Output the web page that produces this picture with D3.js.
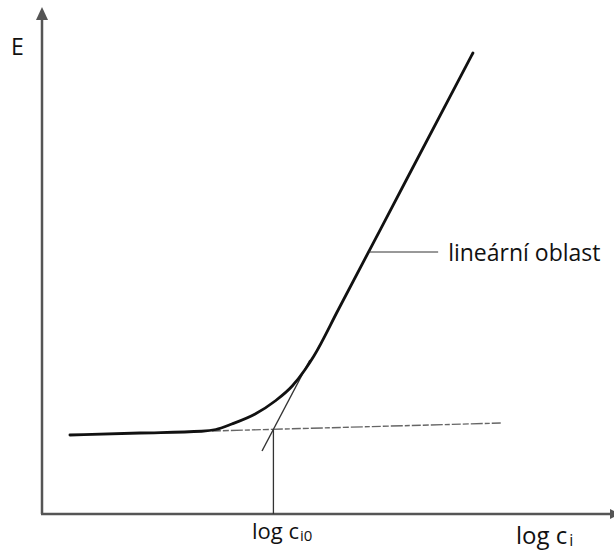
<!DOCTYPE html>
<html>
<head>
<meta charset="utf-8">
<script src="https://cdn.jsdelivr.net/npm/d3@7"></script>
<style>
  html, body { margin: 0; padding: 0; background: #fff; }
  svg { display: block; }
  text { font-family: "Open Sans", Lato, sans-serif; fill: #111; }
</style>
</head>
<body>
<script>
// Electrode response E vs log c_i (arbitrary units)
const curveX = [0.49, 1.72, 2.80, 3.05, 3.33, 3.74, 4.09, 4.39, 4.61, 4.77, 5.20, 6.40, 7.56];
const curveY = [1.58, 1.62, 1.655, 1.69, 1.80, 2.00, 2.26, 2.56, 2.88, 3.16, 4.09, 6.70, 9.22];

// extrapolation of the linear region
const tangentX = [3.86, 4.70];
const tangentY = [1.26, 3.08];

// extrapolated baseline (dashed)
const baseX = [2.98, 8.07];
const baseY = [1.66, 1.82];

// detection limit and label anchor
const logCi0 = 4.06;
const leaderX = [5.73, 6.95];
const leaderY = 5.24;

const labels = {
  yAxis: "E",
  xAxis: "log c",
  xSub: "i",
  limit: "log c",
  limitSub: "i0",
  region: "lineární oblast"
};

const W = 614, H = 552;
const x = d3.scaleLinear().domain([0, 10]).range([42, 612]);
const y = d3.scaleLinear().domain([0, 10]).range([514, 14]);

const svg = d3.select("body").append("svg").attr("width", W).attr("height", H);

const axisColor = "#555";

// axes with arrowheads
svg.append("line")
  .attr("x1", x(0)).attr("y1", y(0)).attr("x2", x(0)).attr("y2", 14)
  .attr("stroke", axisColor).attr("stroke-width", 2.5);
svg.append("path")
  .attr("d", `M${x(0)},7 L${x(0) - 6},20 L${x(0) + 6},20 Z`)
  .attr("fill", axisColor);
svg.append("line")
  .attr("x1", x(0) - 1).attr("y1", y(0)).attr("x2", W).attr("y2", y(0))
  .attr("stroke", axisColor).attr("stroke-width", 2.5);
svg.append("path")
  .attr("d", `M${W + 6},${y(0)} L${W - 4},${y(0) - 5} L${W - 4},${y(0) + 5} Z`)
  .attr("fill", axisColor);

const line = d3.line().x(d => x(d[0])).y(d => y(d[1]));

// dashed baseline
svg.append("path")
  .attr("d", line(d3.zip(baseX, baseY)))
  .attr("fill", "none").attr("stroke", "#666").attr("stroke-width", 1.4)
  .attr("stroke-dasharray", "9,2,6,2,12,2,5,2");

// tangent extrapolation
svg.append("path")
  .attr("d", line(d3.zip(tangentX, tangentY)))
  .attr("fill", "none").attr("stroke", "#333").attr("stroke-width", 1.4);

// vertical marker at log c_i0
const baseAt = baseY[0] + (baseY[1] - baseY[0]) * (logCi0 - baseX[0]) / (baseX[1] - baseX[0]);
svg.append("line")
  .attr("x1", x(logCi0)).attr("x2", x(logCi0))
  .attr("y1", y(baseAt)).attr("y2", y(0))
  .attr("stroke", "#333").attr("stroke-width", 1.3);

// response curve
svg.append("path")
  .attr("d", d3.line().x(d => x(d[0])).y(d => y(d[1])).curve(d3.curveMonotoneX)(d3.zip(curveX, curveY)))
  .attr("fill", "none").attr("stroke", "#111").attr("stroke-width", 2.8)
  .attr("stroke-linecap", "round");

// leader line for the label
svg.append("line")
  .attr("x1", x(leaderX[0])).attr("x2", x(leaderX[1]))
  .attr("y1", y(leaderY)).attr("y2", y(leaderY))
  .attr("stroke", "#333").attr("stroke-width", 1);

svg.append("text")
  .attr("x", x(leaderX[1]) + 10).attr("y", y(leaderY) + 9)
  .attr("font-size", 23)
  .text(labels.region);

// axis titles
svg.append("text").attr("x", 11).attr("y", 55).attr("font-size", 23).text(labels.yAxis);

const xt = svg.append("text").attr("x", 516).attr("y", 544).attr("font-size", 24);
xt.append("tspan").text(labels.xAxis);
xt.append("tspan").attr("font-size", 16).attr("dx", 2).attr("dy", 2).text(labels.xSub);

const lt = svg.append("text").attr("x", 252).attr("y", 539).attr("font-size", 22);
lt.append("tspan").text(labels.limit);
lt.append("tspan").attr("font-size", 15).attr("dx", 1).attr("dy", 2).text(labels.limitSub);
</script>
</body>
</html>
